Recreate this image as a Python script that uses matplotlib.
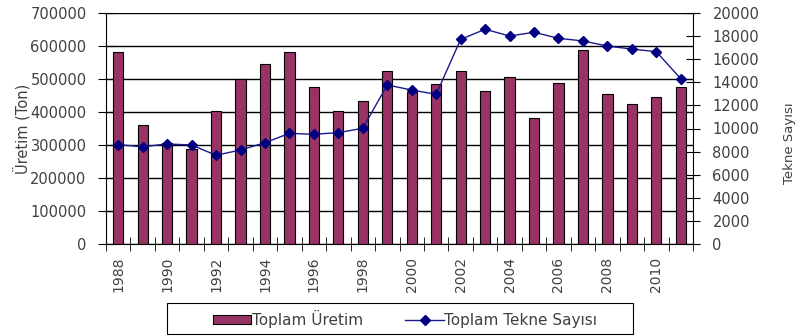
import numpy as np
import matplotlib
matplotlib.use("Agg")
import matplotlib.pyplot as plt
from matplotlib.ticker import MultipleLocator, FixedLocator
from matplotlib.patches import Rectangle

# Yıllar ve değerler
years = list(range(1988, 2012))
uretim = [583000, 360000, 305000, 288000, 404000, 500000, 544000, 583000,
          476000, 404000, 433000, 523000, 462000, 485000, 523000, 464000,
          505000, 383000, 489000, 587000, 454000, 424000, 445000, 475000]
tekne = [8600, 8420, 8660, 8570, 7680, 8140, 8770, 9580,
         9500, 9640, 10020, 13770, 13330, 12960, 17720, 18590,
         18010, 18330, 17810, 17580, 17140, 16880, 16650, 14310]
year_labels = [str(y) if (y - 1988) % 2 == 0 else "" for y in years]

text_col = "#404040"
plt.rcParams["font.family"] = ["DejaVu Sans"]

fig = plt.figure(figsize=(8, 3.36), dpi=100)
ax = fig.add_axes([106 / 800, 1 - 244 / 336, (693 - 106) / 800, 231 / 336])
x = np.arange(len(years))

ax.bar(x, uretim, width=0.42, color="#993366", edgecolor="black", linewidth=0.8,
       label="Toplam Üretim", zorder=2)
ax.set_xlim(-0.5, len(years) - 0.5)
ax.set_ylim(0, 700000)
ax.yaxis.set_major_locator(MultipleLocator(100000))
ax.grid(axis="y", color="black", linewidth=1.0, zorder=0)
ax.set_axisbelow(True)
for s in ["top", "right"]:
    ax.spines[s].set_visible(False)

# etiketler kategori ortasinda, cizgiler aralarinda
ax.set_xticks(x)
ax.set_xticklabels(year_labels, rotation=90, fontsize=10, color=text_col)
ax.tick_params(axis="x", which="major", length=0, pad=9)
ax.xaxis.set_minor_locator(FixedLocator(np.arange(-0.5, len(years), 1)))
ax.tick_params(axis="x", which="minor", direction="inout", length=10)
ax.tick_params(axis="y", direction="inout", length=12, labelsize=10.5,
               labelcolor=text_col, pad=8)
ax.set_ylabel("Üretim (Ton)", fontsize=10.5, color=text_col, labelpad=0)

ax2 = ax.twinx()
ax2.plot(x, tekne, color="#1a1a8c", marker="D", markersize=5.5, linewidth=1.0,
         markerfacecolor="#000080", markeredgecolor="#000080",
         label="Toplam Tekne Sayısı", zorder=3)
ax2.set_ylim(0, 20000)
ax2.yaxis.set_major_locator(MultipleLocator(2000))
ax2.tick_params(axis="y", direction="inout", length=10, labelsize=10.5,
                labelcolor=text_col, pad=9)
for s in ["top", "left", "bottom"]:
    ax2.spines[s].set_visible(False)
fig.text(790 / 800, 1 - 143 / 336, "Tekne Sayısı", rotation=90, fontsize=9.5,
         color=text_col, ha="center", va="center")

h1, l1 = ax.get_legend_handles_labels()
h2, l2 = ax2.get_legend_handles_labels()
leg = fig.legend(h1 + h2, l1 + l2, loc="center", bbox_to_anchor=(405 / 800, 1 - 319 / 336),
                 ncol=2, frameon=False, fontsize=11, handlelength=2.5, handleheight=0.55,
                 handletextpad=0.05, columnspacing=2.8, borderpad=0.2)
for t in leg.get_texts():
    t.set_color(text_col)
fig.add_artist(Rectangle((167 / 800, 1 - 334 / 336), (633 - 167) / 800, 31 / 336,
                         transform=fig.transFigure, fill=False, edgecolor="black",
                         linewidth=0.8))

fig.savefig("out.png", dpi=100)
